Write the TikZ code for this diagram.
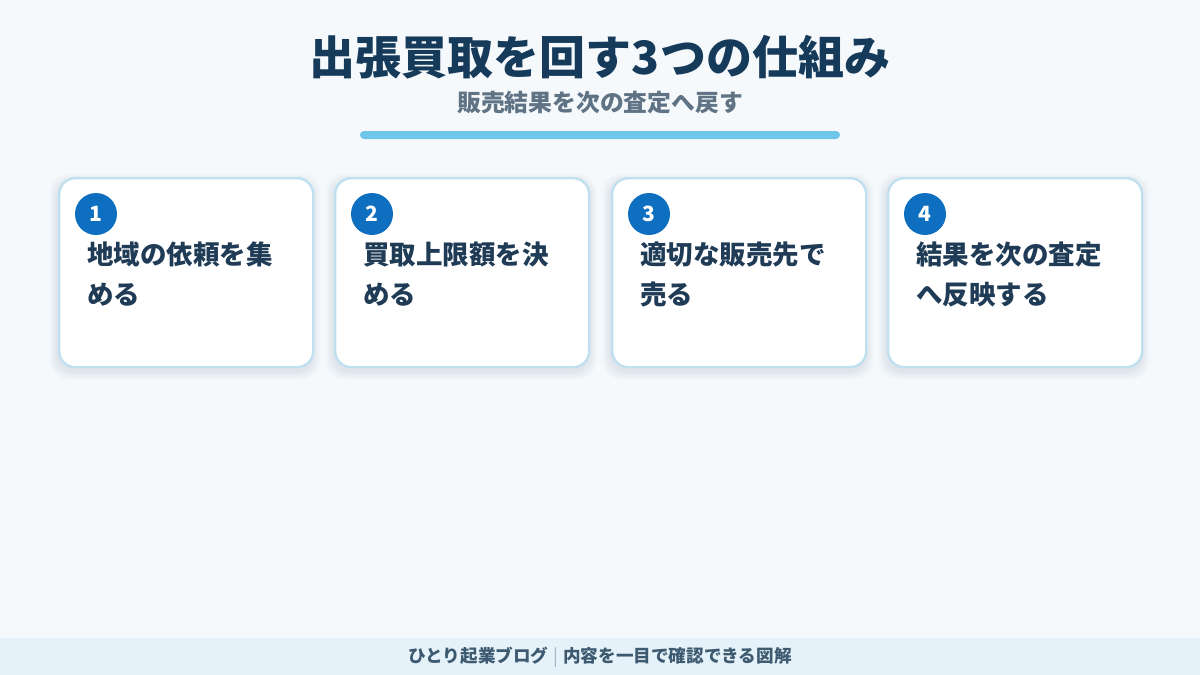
\documentclass[tikz,border=0pt]{standalone}
\usepackage{fontspec}
\setmainfont{Noto Sans CJK JP}
\definecolor{bg}{HTML}{F5F9FC}
\definecolor{titlec}{HTML}{163A5A}
\definecolor{subc}{HTML}{5F7385}
\definecolor{barc}{HTML}{6EC6EA}
\definecolor{cardborder}{HTML}{BFE0EF}
\definecolor{circc}{HTML}{0E6FC0}
\definecolor{cardtext}{HTML}{1F3B55}
\definecolor{footbg}{HTML}{E6F2F9}
\definecolor{footc}{HTML}{3D5A70}
\definecolor{sepc}{HTML}{9FB4C4}
\definecolor{shadowc}{HTML}{1F3B55}
\tikzset{
  card/.style={draw=cardborder, line width=2.4pt, fill=white, rounded corners=16pt,
    minimum width=254pt, minimum height=189pt, anchor=north west, inner sep=0pt},
  cardshadow/.style={fill=shadowc, rounded corners=18pt, opacity=0.025},
  badge/.style={circle, fill=circc, minimum size=42pt, inner sep=0pt, text=white,
    font=\bfseries\fontsize{21pt}{21pt}\selectfont},
  cardtxt/.style={anchor=north west, align=left, inner sep=0pt, text=cardtext,
    font=\bfseries\fontsize{26.5pt}{40pt}\selectfont},
}
\begin{document}
\begin{tikzpicture}[x=1pt,y=-1pt]
\useasboundingbox (0,0) rectangle (1200,675);
\fill[bg] (0,0) rectangle (1200,675);
\node[text=titlec, font=\bfseries\fontsize{46pt}{46pt}\selectfont] (title) at (600,57) {出張買取を回す3つの仕組み};
\node[text=subc, font=\bfseries\fontsize{23.8pt}{24pt}\selectfont] (sub) at (600,103) {販売結果を次の査定へ戻す};
\fill[barc, rounded corners=4pt] (360,131) rectangle (840,139);
\foreach \i/\x/\l/\m in {1/58/地域の依頼を集/める, 2/334/買取上限額を決/める, 3/611/適切な販売先で/売る, 4/887/結果を次の査定/へ反映する}{
  \foreach \d in {2,4,6,8}{
    \fill[cardshadow] (\x-\d,177-\d+5) rectangle (\x+254+\d,366+\d+5);
  }
  \node[card] (card\i) at (\x,177) {};
  \node[badge] (badge\i) at (\x+38,214) {\i};
  \node[cardtxt] (txt\i) at (\x+29,242) {\l\\\m};
}
\fill[footbg] (0,638) rectangle (1200,675);
\node[text=footc, font=\bfseries\fontsize{17.6pt}{18pt}\selectfont] (foot) at (600,657) {ひとり起業ブログ\hspace{5pt}{\color{sepc}\textmd{|}}\hspace{5pt}内容を一目で確認できる図解};
\end{tikzpicture}
\end{document}
